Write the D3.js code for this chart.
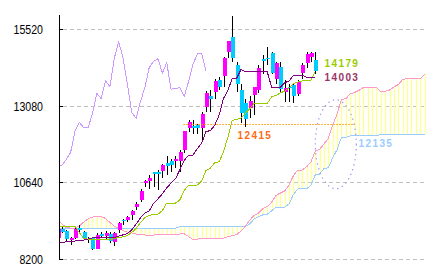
<!DOCTYPE html>
<html><head><meta charset="utf-8">
<script src="https://cdn.jsdelivr.net/npm/d3@7"></script>
<style>body{margin:0;background:#fff}svg{display:block}</style>
</head><body>
<svg id="c" width="433" height="273"></svg>
<script>
// ---- data (weekly candles, index 0..59; cloud runs 25 periods ahead to 84) ----
const opens  = [8880,9170,9120,8820,8880,9190,9090,8840,8870,8550,9010,8950,9000,8770,9150,9470,9470,9620,9880,10080,10635,10700,10970,11000,11030,11285,11350,11340,11350,11700,12380,12460,12480,12380,13065,13400,13545,13900,14043,14808,15285,14400,13600,13185,13035,13440,13600,14575,14620,14780,13950,14340,13530,13705,13740,13460,14150,14450,14650,14550];
const highs  = [9222,9230,9150,8920,9230,9290,9120,8910,8880,9040,9080,9120,9060,9060,9400,9500,9580,9780,10040,10430,10740,10880,11000,11050,11250,11500,11400,11500,11700,12300,12650,12650,12500,12900,13550,13600,13950,14000,14650,15160,15942,14480,13800,13300,13400,13700,14400,14700,14953,14800,14500,14500,13900,13800,13800,13900,14450,14800,14818,14800];
const lows   = [8860,9030,8800,8660,8860,9050,8830,8740,8490,8520,8890,8840,8720,8620,9030,9310,9380,9470,9760,10040,10500,10450,10500,10400,10800,10900,11000,11100,11000,11600,12270,12200,12200,12000,12900,12900,13300,13600,13700,14600,14483,13540,12548,12415,12700,12800,13500,14100,14400,14100,13800,13500,13200,13200,13188,13400,13950,14300,14500,14100];
const closes = [9163,9071,8850,8872,9159,9130,8870,8863,8534,8990,8933,9040,8790,9030,9367,9446,9540,9738,9960,10395,10700,10802,10913,10927,11220,11190,11200,11386,11606,12284,12561,12400,12398,12834,13485,13316,13884,13694,14608,15138,14612,13775,12878,12687,13230,13677,14310,14506,14590,14130,14466,13615,13650,13661,13389,13861,14405,14742,14760,14190];
const tenkan = [8750,8750,8760,8770,8790,8800,8820,8850,8890,8890,8890,8890,8890,8890,8945,8985,9025,9140,9330,9525,9680,9750,9990,10130,10290,10485,10630,10770,11050,11350,11525,11525,11725,11900,12275,12300,12475,12800,13325,13580,13971,13971,14245,14179,14179,14179,14179,14179,14179,13684,13684,13684,13827,13877,14068,14068,14068,13994,14003,14003];
const kijun  = [9250,9250,9250,9250,9250,9060,8860,8850,8830,8830,8830,8830,8840,8870,8900,8920,8960,9060,9190,9380,9530,9600,9640,9640,9760,9995,9995,9995,10095,10395,10570,10570,10570,10695,11035,11110,11285,11310,11635,12095,12626,12661,12706,12851,12991,13171,13171,13171,13171,13371,13421,13500,13560,13650,13790,13850,13880,13900,13900,14179];
const spanA  = [9457,9329,9218,9200,9200,9265,9393,9489,9552,9568,9568,9505,9377,9265,9186,9121,9074,9042,9010,8995,8979,8979,8979,8985,8990,
  9000,9000,9005,9010,9020,8930,8840,8850,8860,8860,8860,8860,8865,8880,8923,8953,8993,9100,9260,9453,9605,9675,9815,9885,10025,10240,10313,10383,10573,10873,11048,11048,11148,11298,11655,11705,11880,12055,12480,12838,13299,13316,13476,13515,13585,13675,13675,13675,13675,13528,13553,13592,13694,13764,13929,13959,13974,13947,13952,14091];
const spanB  = [9195,9195,9195,9195,9195,9195,9195,9195,9195,9195,9195,9195,9195,9195,9195,9195,9195,9195,9195,9195,9195,9195,9195,9195,9195,9195,9195,9195,
  9246,9246,9246,9246,9246,9246,9246,9246,9246,9246,9246,9246,9246,9246,9246,9246,
  9334,9489,9559,9619,9644,9744,9869,9869,9869,9969,10269,10444,10444,10444,10569,10894,10919,11094,11119,11444,11699,12090,12090,
  12135,12135,12135,12135,12135,12135,12135,
  12180,12180,12180,12180,12180,12180,12180,12180,12180,12180,12180];
const yTicks = [8200,10640,13080,15520];
const lagShift = 25;
const noteLines = [{v:12510, from:28.8, to:68.1}];
const valueLabels = [
  {text:"14179", color:"#99cc00", x:324.5, y:66.7},
  {text:"14003", color:"#993366", x:324.5, y:81},
  {text:"12415", color:"#ff6a13", x:237.5, y:139.3},
  {text:"12135", color:"#99ccff", x:358.5, y:146.7}
];
const ring = {i:63.7, v:11870, rx:20.5, ry:44.5};

// ---- drawing ----
const svg = d3.select('#c');
const x = d3.scaleLinear().domain([0,84]).range([57.5,424.5]);
const y = d3.scaleLinear().domain([8200,16000]).range([259.5,14.4]);
const py = v => Math.floor(y(v)) + 0.5;

svg.append('defs').append('clipPath').attr('id','plot')
  .append('rect').attr('x',59).attr('y',0).attr('width',374).attr('height',273);

// grid
svg.append('g').selectAll('line').data(yTicks).join('line')
  .attr('x1',63).attr('x2',427).attr('y1',py).attr('y2',py)
  .attr('stroke','#c0c0c0').attr('stroke-dasharray','4,3').attr('shape-rendering','crispEdges');

const g = svg.append('g').attr('clip-path','url(#plot)');
const idx85 = d3.range(85);

// cloud hatch
g.append('g').selectAll('line').data(idx85).join('line')
  .attr('x1',i=>Math.round(x(i))+0.5).attr('x2',i=>Math.round(x(i))+0.5)
  .attr('y1',i=>y(spanA[i])).attr('y2',i=>y(spanB[i]))
  .attr('stroke','#ffff99').attr('stroke-width',1.4);

const line = d3.line().x(d=>x(d[0])).y(d=>y(d[1]));
function path(data, color, w){
  g.append('path').datum(data).attr('d',line).attr('fill','none')
   .attr('stroke',color).attr('stroke-width',w||1).attr('stroke-linejoin','round')
   .attr('shape-rendering','crispEdges');
}
path(spanB.map((v,i)=>[i,v]), '#99ccff');
path(spanA.map((v,i)=>[i,v]), '#ff99cc');
// lagging span
path(closes.slice(lagShift).map((v,i)=>[i,v]), '#cc99ff');

// candles
const idx60 = d3.range(closes.length);
const cg = g.append('g');
cg.selectAll('line').data(idx60).join('line')
  .attr('x1',i=>Math.round(x(i))+0.5).attr('x2',i=>Math.round(x(i))+0.5)
  .attr('y1',i=>y(highs[i])).attr('y2',i=>y(lows[i]))
  .attr('stroke','#000').attr('stroke-width',1).attr('shape-rendering','crispEdges');
cg.selectAll('rect').data(idx60).join('rect')
  .attr('x',i=>Math.round(x(i))-1.5).attr('width',4)
  .attr('y',i=>y(Math.max(opens[i],closes[i])))
  .attr('height',i=>Math.max(1.5,Math.abs(y(opens[i])-y(closes[i]))))
  .attr('fill',i=>closes[i]>=opens[i]?'#ff00ff':'#00ccff')
  .attr('shape-rendering','crispEdges');

path(kijun.map((v,i)=>[i,v]), '#99cc00', 1);
path(tenkan.map((v,i)=>[i,v]), '#800080', 1);

// annotations
g.append('g').selectAll('line').data(noteLines).join('line')
  .attr('x1',d=>x(d.from)).attr('x2',d=>x(d.to)).attr('y1',d=>py(d.v)).attr('y2',d=>py(d.v))
  .attr('stroke','#ff9900').attr('stroke-width',1).attr('stroke-dasharray','1.5,1.5');
g.append('ellipse').attr('cx',x(ring.i)).attr('cy',y(ring.v)).attr('rx',ring.rx).attr('ry',ring.ry)
  .attr('fill','none').attr('stroke','#9f8fef').attr('stroke-width',1.2).attr('stroke-dasharray','1.3,3.7');

svg.append('g').selectAll('text').data(valueLabels).join('text')
  .attr('x',d=>d.x).attr('y',d=>d.y).text(d=>d.text).attr('fill',d=>d.color)
  .attr('font-family','Liberation Sans, Arial, sans-serif').attr('font-weight','bold')
  .attr('font-size','10px').attr('letter-spacing','1.4px');

// axis
const ax = svg.append('g').attr('transform','translate(58.5,0)')
  .call(d3.axisLeft(y).tickValues(yTicks).tickSizeInner(-4).tickSizeOuter(0).tickPadding(15.5).tickFormat(d3.format('d')));
ax.select('.domain').attr('stroke','#000').attr('shape-rendering','crispEdges');
ax.selectAll('.tick line').attr('stroke','#000').attr('shape-rendering','crispEdges');
ax.selectAll('.tick').attr('transform',d=>'translate(0,'+py(d)+')');
ax.selectAll('.tick text').attr('font-family','Liberation Sans, Arial, sans-serif')
  .attr('font-size','12.5px').attr('fill','#000').attr('dy','0.36em')
  .attr('textLength',function(d){return String(d).length*5.9;}).attr('lengthAdjust','spacingAndGlyphs');
</script>
</body></html>
